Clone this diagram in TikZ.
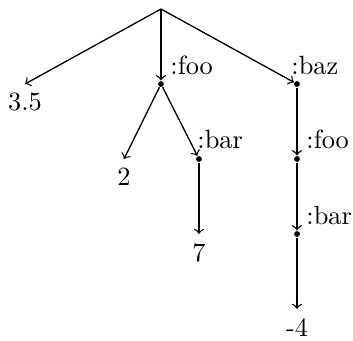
\documentclass[tikz,border=0pt]{standalone}
\begin{document}
\begin{tikzpicture}[x=0.3794pt,y=0.3794pt,yscale=-1,xscale=1,line width=0.5pt,
  dot/.style={circle,fill,inner sep=0pt,minimum size=2.2pt},
  leaf/.style={anchor=north},
  key/.style={anchor=base west}]
%set diagram size: 353 wide, 341 high
\useasboundingbox (0,0) rectangle (353,341);

%Root
\coordinate (root) at (161,9);
%Inner nodes
\node[dot] (foo) at (161,84) {};
\node[dot] (baz) at (297,84) {};
\node[dot] (foobar) at (199,159) {};
\node[dot] (bazfoo) at (297,159) {};
\node[dot] (bazfoobar) at (297,234) {};
%Leaves
\node[leaf] (v35) at (25,84) {3.5};
\node[leaf] (v2) at (124,159) {2};
\node[leaf] (v7) at (199,234) {7};
\node[leaf] (vm4) at (297,309) {-4};
%Keys
\node[key] (kfoo) at (161,75) {:foo};
\node[key] (kbaz) at (282,75) {:baz};
\node[key] (kfoobar) at (188,149) {:bar};
\node[key] (kbazfoo) at (297,149) {:foo};
\node[key] (kbazfoobar) at (297,225) {:bar};

%Edges from root
\draw[->] (root) -- (v35.north);
\draw[->] (root) -- (foo);
\draw[->] (root) -- (baz);
%Edges below :foo
\draw[->] (foo) -- (v2.north);
\draw[->] (foo) -- (foobar);
\draw[->] (foobar) -- (v7.north);
%Edges below :baz
\draw[->] (baz) -- (bazfoo);
\draw[->] (bazfoo) -- (bazfoobar);
\draw[->] (bazfoobar) -- (vm4.north);

\end{tikzpicture}
\end{document}
